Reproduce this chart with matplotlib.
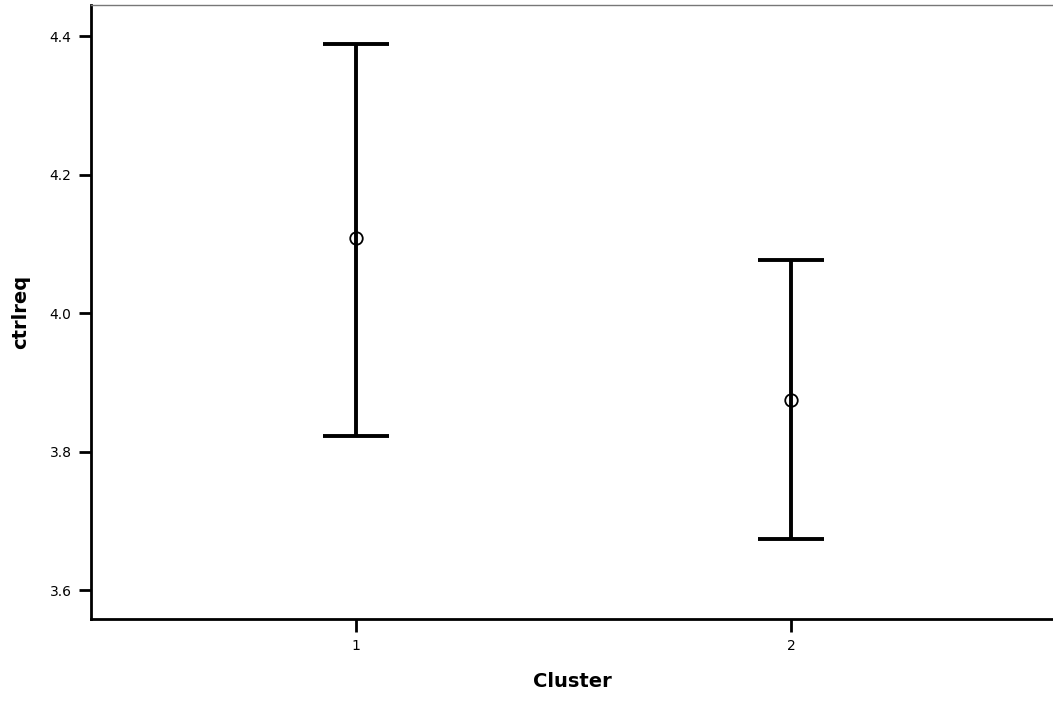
import matplotlib
matplotlib.use("Agg")
import matplotlib.pyplot as plt
import numpy as np

clusters = [1, 2]
means = [4.108, 3.875]
upper = [4.388, 4.077]
lower = [3.823, 3.674]
yticks = [3.6, 3.8, 4.0, 4.2, 4.4]

fig = plt.figure(figsize=(10.53, 7.02), dpi=100)
ax = fig.add_axes([0.0864, 0.118, 0.9136, 0.875])

m = np.array(means)
yerr = np.vstack([m - np.array(lower), np.array(upper) - m])
ax.errorbar(clusters, means, yerr=yerr, fmt="none", ecolor="black",
            elinewidth=2.8, capsize=24, capthick=2.8)
ax.plot(clusters, means, "o", mfc="none", mec="black", ms=9, mew=1.3,
        zorder=3)

ax.set_xlim(0.393, 2.6)
ax.set_ylim(3.558, 4.445)
ax.set_xticks(clusters)
ax.set_xticklabels([str(c) for c in clusters])
ax.set_yticks(yticks)
ax.set_yticklabels([f"{v:.1f}" for v in yticks])

for s in ["left", "bottom"]:
    ax.spines[s].set_linewidth(2)
ax.spines["top"].set_linewidth(1)
ax.spines["top"].set_color("#777777")
ax.spines["right"].set_visible(False)
ax.tick_params(axis="both", length=9, width=2, labelsize=10, pad=5)

ax.set_xlabel("Cluster", fontsize=14, fontweight="bold", labelpad=14)
ax.set_ylabel("ctrlreq", fontsize=14, fontweight="bold", labelpad=14)

fig.savefig("out.png", dpi=100)
